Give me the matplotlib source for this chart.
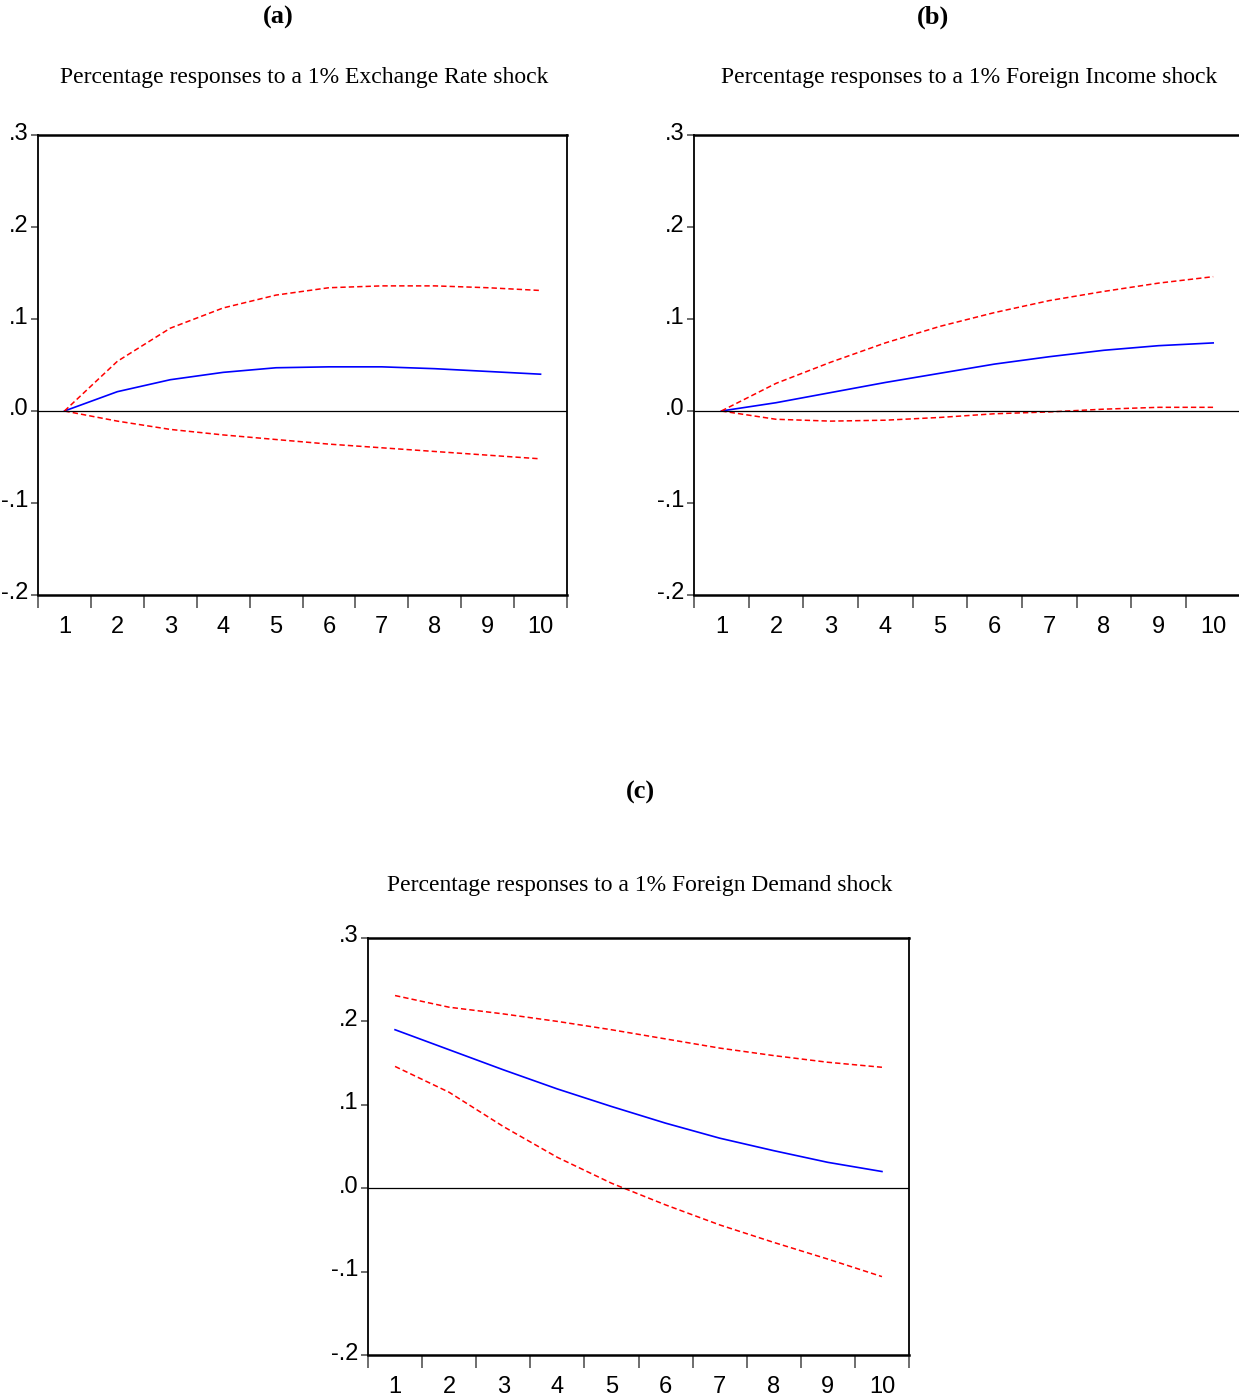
import numpy as np
import matplotlib.pyplot as plt
from matplotlib.transforms import ScaledTranslation

periods = [1, 2, 3, 4, 5, 6, 7, 8, 9, 10]
ytick_vals = [-0.2, -0.1, 0.0, 0.1, 0.2, 0.3]
ytick_labels = ["-.2", "-.1", ".0", ".1", ".2", ".3"]

# (a) exchange rate shock
resp_a = [0.0, 0.021, 0.034, 0.042, 0.047, 0.048, 0.048, 0.046, 0.043, 0.040]
upper_a = [0.0, 0.054, 0.090, 0.112, 0.126, 0.134, 0.136, 0.136, 0.134, 0.131]
lower_a = [0.0, -0.011, -0.020, -0.026, -0.031, -0.036, -0.040, -0.044, -0.048, -0.052]

# (b) foreign income shock
resp_b = [0.0, 0.009, 0.020, 0.031, 0.041, 0.051, 0.059, 0.066, 0.071, 0.074]
upper_b = [0.0, 0.030, 0.053, 0.074, 0.092, 0.107, 0.120, 0.130, 0.139, 0.146]
lower_b = [0.0, -0.009, -0.011, -0.010, -0.007, -0.003, -0.001, 0.002, 0.004, 0.004]

# (c) foreign demand shock
resp_c = [0.190, 0.166, 0.142, 0.119, 0.098, 0.078, 0.060, 0.045, 0.031, 0.020]
upper_c = [0.231, 0.217, 0.209, 0.200, 0.190, 0.179, 0.168, 0.159, 0.151, 0.145]
lower_c = [0.146, 0.115, 0.074, 0.037, 0.006, -0.020, -0.044, -0.065, -0.085, -0.106]

tick_font = ["Liberation Sans", "DejaVu Sans"]
title_font = ["Liberation Serif", "DejaVu Serif"]

fig = plt.figure(figsize=(12.39, 13.99), dpi=100)


def panel(rect, resp, upper, lower):
    ax = fig.add_axes(rect)
    ax.plot(periods, resp, color="blue", lw=1.2)
    ax.plot(periods, upper, color="red", lw=1.1, ls=(0, (3.5, 2)))
    ax.plot(periods, lower, color="red", lw=1.1, ls=(0, (3.5, 2)))
    ax.axhline(0, color="black", lw=0.9)
    ax.set_xlim(0.5, 10.5)
    ax.set_ylim(-0.2, 0.3)
    ax.set_yticks(ytick_vals)
    ax.set_yticklabels(ytick_labels, family=tick_font, fontsize=17)
    # ticks sit between periods, labels on the periods
    ax.set_xticks(np.arange(0.5, 11, 1))
    ax.set_xticklabels([])
    ax.set_xticks(periods, minor=True)
    ax.set_xticklabels([str(p) for p in periods], minor=True, family=tick_font, fontsize=17)
    ax.tick_params(axis="x", which="major", direction="out", length=9, width=1.2, color="#555555")
    ax.tick_params(axis="x", which="minor", length=0, pad=15)
    ax.tick_params(axis="y", direction="out", length=5, width=1.2, color="#555555", pad=2)
    # labels sit a little above their tick, as in the source
    shift = ScaledTranslation(0, 0.04, fig.dpi_scale_trans)
    for lbl in ax.get_yticklabels():
        lbl.set_transform(lbl.get_transform() + shift)
    for s in ax.spines.values():
        s.set_linewidth(1.3)
        s.set_color("black")
    ax.spines["top"].set_linewidth(1.8)
    ax.spines["bottom"].set_linewidth(1.8)
    return ax


W, H = 1239, 1399

def rect(x0, x1, y0, y1):
    return [x0 / W, 1 - y1 / H, (x1 - x0) / W, (y1 - y0) / H]

panel(rect(38, 567, 135, 595), resp_a, upper_a, lower_a)
panel(rect(694, 1240.5, 135, 595), resp_b, upper_b, lower_b)
panel(rect(368, 909, 938, 1355), resp_c, upper_c, lower_c)

def txt(x, y, s, **kw):
    fig.text(x / W, 1 - y / H, s, ha="center", va="center", **kw)

txt(278, 17, "(a)", family=title_font, fontsize=19, fontweight="bold")
txt(933, 17, "(b)", family=title_font, fontsize=19, fontweight="bold")
txt(640, 792, "(c)", family=title_font, fontsize=19, fontweight="bold")

txt(304, 78, "Percentage responses to a 1% Exchange Rate shock", family=title_font, fontsize=17)
txt(969, 78, "Percentage responses to a 1% Foreign Income shock", family=title_font, fontsize=17)
txt(640, 886, "Percentage responses to a 1% Foreign Demand shock", family=title_font, fontsize=17)

fig.savefig("out.png", dpi=100)
